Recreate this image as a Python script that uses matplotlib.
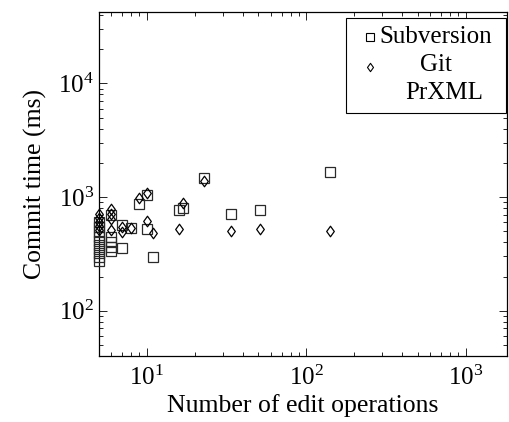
import matplotlib
matplotlib.use("Agg")
import matplotlib.pyplot as plt
from matplotlib.patches import Rectangle
from matplotlib.path import Path

plt.rcParams['font.family'] = ['Liberation Serif', 'DejaVu Serif']
plt.rcParams['mathtext.fontset'] = 'stix'

# Subversion
svn_x = [5, 5, 5, 5, 5, 5, 5, 5, 5, 5,
         6, 6, 6, 6, 6,
         7, 7, 8, 9, 10, 10, 11, 16, 17, 23, 34, 51, 141]
svn_y = [603, 545, 492, 445, 410, 378, 349, 322, 297, 274,
         693, 445, 402, 363, 335,
         567, 356, 533, 868, 1041, 523, 296, 768, 800, 1465, 704, 768, 1649]
# Git
git_x = [5, 5, 5, 5, 5,
         6, 6, 6, 6,
         7, 7, 8, 9, 10, 10, 11, 16, 17, 23, 34, 51, 141]
git_y = [709, 654, 603, 556, 513,
         784, 709, 641, 513,
         548, 496, 533, 980, 1084, 619, 482, 520, 886, 1370, 506, 520, 506]

legend_labels = ["Subversion", "Git", "PrXML"]

diamond = Path([(0, 1), (0.72, 0), (0, -1), (-0.72, 0), (0, 1)],
               [Path.MOVETO, Path.LINETO, Path.LINETO, Path.LINETO, Path.CLOSEPOLY])

fig = plt.figure(figsize=(5.10, 4.22), dpi=100)
ax = fig.add_axes([98.7/510, 1 - 356/422, (507 - 98.7)/510, (356 - 12)/422])

ax.plot(svn_x, svn_y, linestyle='none', marker='s', markersize=7.2,
        markerfacecolor='none', markeredgecolor='#2a2a2a', markeredgewidth=0.9,
        clip_on=False, zorder=3)
ax.plot(git_x, git_y, linestyle='none', marker=diamond, markersize=7.6,
        markerfacecolor='none', markeredgecolor='black', markeredgewidth=0.9,
        clip_on=False, zorder=3)

ax.set_xscale('log')
ax.set_yscale('log')
ax.set_xlim(5, 1815)
ax.set_ylim(40, 42400)

ax.tick_params(which='both', direction='in', top=True, right=True,
               labelsize=18, width=0.6)
ax.tick_params(axis='x', which='major', pad=7)
ax.tick_params(which='major', length=5.5)
ax.tick_params(which='minor', length=3)
for s in ax.spines.values():
    s.set_linewidth(0.9)

ax.set_xlabel("Number of edit operations", fontsize=18.5, labelpad=3)
ax.set_ylabel("Commit time (ms)", fontsize=18.5, labelpad=8)

# Legend drawn manually (centered text entries like pgfplots)
def px(x, y):
    return ((x - 98.7) / (507 - 98.7), (356 - y) / (356 - 12))

x0, y0 = px(346, 113)
x1, y1 = px(506, 18)
ax.add_patch(Rectangle((x0, y0), x1 - x0, y1 - y0, transform=ax.transAxes,
                       facecolor='white', edgecolor='black', linewidth=0.8,
                       zorder=5, clip_on=False))
mx, my = px(370, 37)
ax.plot([mx], [my], marker='s', markersize=6, markerfacecolor='none',
        markeredgecolor='black', markeredgewidth=0.8, transform=ax.transAxes,
        zorder=6, clip_on=False)
mx, my = px(370, 66.5)
ax.plot([mx], [my], marker=diamond, markersize=6, markerfacecolor='none',
        markeredgecolor='black', markeredgewidth=0.8, transform=ax.transAxes,
        zorder=6, clip_on=False)
tx, ty = px(436, 37)
ax.text(tx, ty, legend_labels[0], transform=ax.transAxes, ha='center',
        va='center', fontsize=18, zorder=6)
tx, ty = px(436, 65)
ax.text(tx, ty, legend_labels[1], transform=ax.transAxes, ha='center',
        va='center', fontsize=18, zorder=6)
tx, ty = px(444, 93)
ax.text(tx, ty, legend_labels[2], transform=ax.transAxes, ha='center',
        va='center', fontsize=18, zorder=6)

fig.savefig("out.png", dpi=100)
